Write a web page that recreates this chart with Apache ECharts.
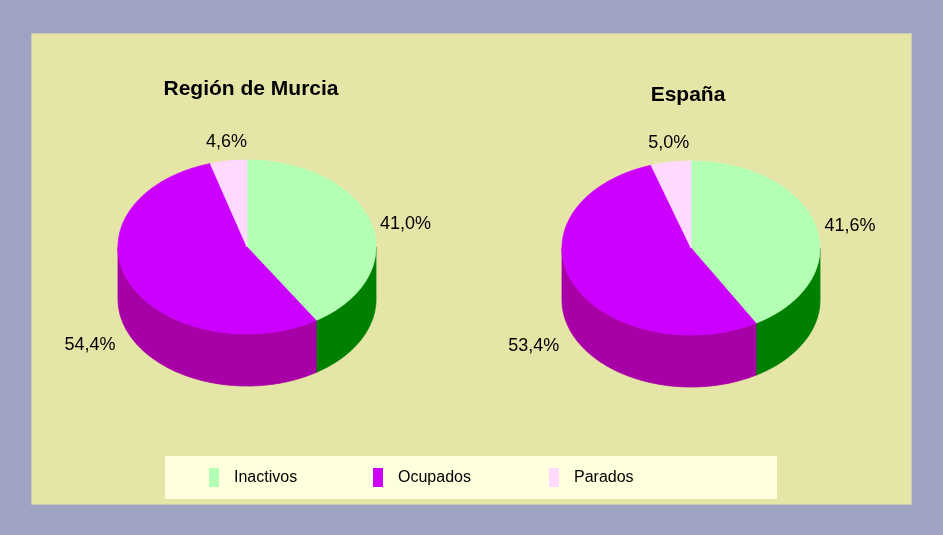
<!DOCTYPE html>
<html>
<head>
<meta charset="utf-8">
<script src="https://cdn.jsdelivr.net/npm/echarts@6/dist/echarts.min.js"></script>
<style>
html,body{margin:0;padding:0;background:#9ea3c3;}
#chart{width:943px;height:535px;}
</style>
</head>
<body>
<div id="chart"></div>
<script>
// ---- data ----
const categories = ['Inactivos', 'Ocupados', 'Parados'];
const regions = ['Región de Murcia', 'España'];
const murciaValues = [41.0, 54.4, 4.6];
const espanaValues = [41.6, 53.4, 5.0];

// ---- styling / layout ----
const topColors = ['#b3ffb3', '#cc00ff', '#ffd9ff'];
const sideColors = ['#008000', '#a600a6', '#cca3cc'];
const FONT = "'Liberation Sans', Arial, Helvetica, sans-serif";
const pies = [{cx: 247, cy: 247}, {cx: 691, cy: 248}];
const RX = 129, RY = 87, DEPTH = 52;

const regionValues = [murciaValues, espanaValues];
const totals = regionValues.map(v => v.reduce((s, x) => s + x, 0));
const cumulative = regionValues.map(v => {
  const out = []; let s = 0;
  v.forEach(x => { out.push(s); s += x; });
  return out;
});

function fmt(v) { return v.toFixed(1).replace('.', ',') + '%'; }

function pt(p, t, dy) {
  return [p.cx + RX * Math.sin(t), p.cy - RY * Math.cos(t) + (dy || 0)];
}

function arcPts(p, a, b, dy) {
  const n = Math.max(2, Math.ceil((b - a) / 0.02));
  const out = [];
  for (let k = 0; k <= n; k++) out.push(pt(p, a + (b - a) * k / n, dy));
  return out;
}

function renderSlice(ci) {
  return function (params, api) {
    const val = api.value(0), start = api.value(1), total = api.value(2), pi = api.value(3);
    const p = pies[pi];
    const a = start / total * Math.PI * 2;
    const b = (start + val) / total * Math.PI * 2;
    const children = [];
    // side (front half: PI/2 .. 3PI/2)
    const sa = Math.max(a, Math.PI / 2), sb = Math.min(b, Math.PI * 1.5);
    if (sb > sa) {
      const upper = arcPts(p, sa, sb, 0);
      const lower = arcPts(p, sa, sb, DEPTH).reverse();
      children.push({
        type: 'polygon',
        shape: {points: upper.concat(lower)},
        style: {fill: sideColors[ci], stroke: sideColors[ci], lineWidth: 0.8}
      });
    }
    // top face
    const topPts = [[p.cx, p.cy]].concat(arcPts(p, a, b, 0));
    children.push({
      type: 'polygon',
      shape: {points: topPts},
      style: {fill: topColors[ci], stroke: topColors[ci], lineWidth: 0.8}
    });
    // label
    const mid = (a + b) / 2;
    const s = Math.sin(mid), c = Math.cos(mid);
    const mp = pt(p, mid, 0);
    let x, y, align, valign;
    if (c > 0.7) {
      x = mp[0] - 2; y = mp[1] - 10; align = 'center'; valign = 'bottom';
    } else if (c >= 0) {
      x = mp[0] + (s > 0 ? 9 : -9); y = mp[1] + 1; align = s > 0 ? 'left' : 'right'; valign = 'middle';
    } else {
      x = mp[0] + (s > 0 ? 14 : -14); y = mp[1] + DEPTH + 10; align = s > 0 ? 'left' : 'right'; valign = 'middle';
    }
    children.push({
      type: 'text',
      style: {
        text: fmt(val), x: x, y: y, fill: '#000',
        font: '18px ' + FONT,
        align: align, verticalAlign: valign,
        textAlign: align, textVerticalAlign: valign
      }
    });
    return {type: 'group', children: children};
  };
}

const series = categories.map((name, ci) => ({
  type: 'custom',
  name: name,
  coordinateSystem: 'none',
  silent: true,
  itemStyle: {color: topColors[ci]},
  renderItem: renderSlice(ci),
  data: regions.map((r, ri) => [regionValues[ri][ci], cumulative[ri][ci], totals[ri], ri])
}));

const legendLefts = [209, 373, 549];
const legend = categories.map((name, ci) => ({
  data: [name],
  left: legendLefts[ci],
  top: 468,
  orient: 'horizontal',
  icon: 'rect',
  itemWidth: 10,
  itemHeight: 19,
  padding: 0,
  selectedMode: false,
  textStyle: {fontSize: 16, fontFamily: FONT, color: '#000', padding: [0, 0, 0, 10]}
}));

const chart = echarts.init(document.getElementById('chart'), null, {renderer: 'canvas'});
chart.setOption({
  animation: false,
  backgroundColor: '#9ea3c3',
  graphic: [
    {type: 'rect', z: -10, shape: {x: 31.5, y: 33.5, width: 880, height: 471},
      style: {fill: '#e6e5a8', stroke: '#c9c9b5', lineWidth: 1}},
    {type: 'rect', z: -9, shape: {x: 165, y: 456, width: 612, height: 43},
      style: {fill: '#ffffdd'}},
    {type: 'text', z: 5, style: {text: regions[0], x: 251, y: 89, fill: '#000',
      font: 'bold 21px ' + FONT, align: 'center', verticalAlign: 'middle',
      textAlign: 'center', textVerticalAlign: 'middle'}},
    {type: 'text', z: 5, style: {text: regions[1], x: 688, y: 95, fill: '#000',
      font: 'bold 21px ' + FONT, align: 'center', verticalAlign: 'middle',
      textAlign: 'center', textVerticalAlign: 'middle'}}
  ],
  legend: legend,
  series: series
});
</script>
</body>
</html>
